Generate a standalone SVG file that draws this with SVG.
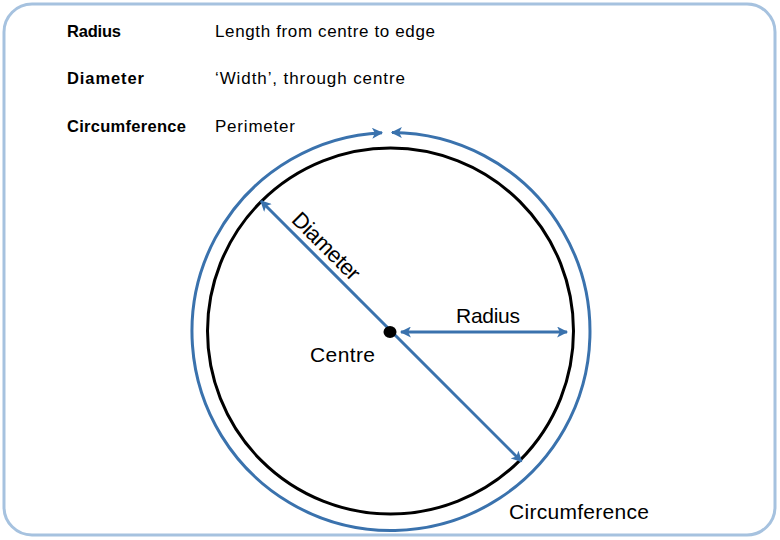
<svg xmlns="http://www.w3.org/2000/svg" width="780" height="540" viewBox="0 0 780 540">
  <style>
    .lbl { font-family: "Liberation Sans", Arial, sans-serif; fill: #000; }
    .b { font-weight: bold; font-size: 16.5px; }
    .r { font-size: 17px; }
    .big { font-size: 21px; }
    .blue { fill: none; stroke: #3a72ad; stroke-width: 3; }
  </style>
  <defs>
    <marker id="arr" viewBox="0 0 10 10" refX="9" refY="5" markerUnits="userSpaceOnUse" markerWidth="12" markerHeight="11" orient="auto-start-reverse">
      <path d="M0,0 L10,5 L0,10 L2.5,5 z" fill="#3a72ad"/>
    </marker>
  </defs>
  <rect x="0" y="0" width="780" height="540" fill="#ffffff"/>
  <rect id="frame" x="4" y="4" width="771" height="531" rx="28" ry="28" fill="none" stroke="#a6c2df" stroke-width="3"/>

  <g id="legend">
    <text class="lbl b" x="67" y="37" textLength="54">Radius</text>
    <text class="lbl r" x="215" y="37" textLength="220">Length from centre to edge</text>
    <text class="lbl b" x="67" y="84" textLength="77">Diameter</text>
    <text class="lbl r" x="215" y="84" textLength="190">‘Width’, through centre</text>
    <text class="lbl b" x="67" y="132" textLength="119">Circumference</text>
    <text class="lbl r" x="215" y="132" textLength="80">Perimeter</text>
  </g>

  <g id="circle">
    <circle cx="390.5" cy="331" r="183" fill="none" stroke="#000" stroke-width="3"/>
  </g>

  <g id="connectors">
    <path id="circumference-arc" class="blue" d="M392,132.5 A199,199 0 1 1 382,132.7" marker-start="url(#arr)" marker-end="url(#arr)"/>
    <line id="diameter-line" class="blue" x1="261" y1="201" x2="521.5" y2="461.5" marker-start="url(#arr)" marker-end="url(#arr)"/>
    <line id="radius-line" class="blue" x1="401" y1="332" x2="567" y2="332" marker-start="url(#arr)" marker-end="url(#arr)"/>
  </g>

  <g id="centre">
    <ellipse cx="390" cy="332" rx="6.5" ry="6" fill="#000"/>
    <text class="lbl big" x="310" y="362" textLength="65">Centre</text>
  </g>

  <g id="labels">
    <text class="lbl big" x="456" y="323" textLength="64">Radius</text>
    <text class="lbl" style="font-size:22px" x="321" y="251.5" text-anchor="middle" textLength="86" transform="rotate(45 321 251.5)">Diameter</text>
    <text class="lbl big" x="509" y="519" textLength="140">Circumference</text>
  </g>
</svg>
